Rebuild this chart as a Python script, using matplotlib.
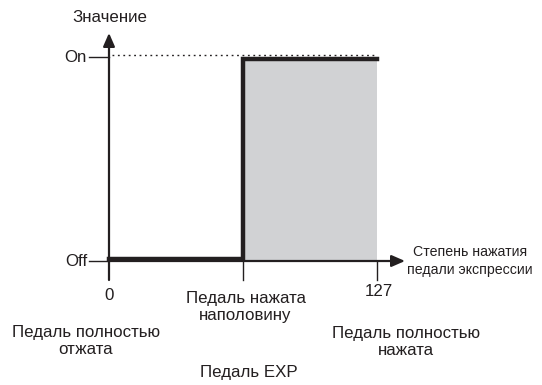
import matplotlib
matplotlib.use("Agg")
import matplotlib.pyplot as plt

plt.rcParams['font.family'] = ['Liberation Sans', 'DejaVu Sans']

# data
x_pos = [0, 63.5, 127]           # pedal positions
x_tick_labels = ['0', 'Педаль нажата\nнаполовину', '127']
step_x = [0, 63.5, 63.5, 127]
step_y = [0, 0, 1, 1]            # Off = 0, On = 1
y_levels = [0, 1]
y_labels = ['Off', 'On']
bottom_labels = ['Педаль полностью\nотжата', 'Педаль полностью\nнажата']
y_title = 'Значение'
x_title = 'Степень нажатия\nпедали экспрессии'
caption = 'Педаль EXP'

ink = '#231f20'
fill = '#d1d2d4'

W, H = 542, 385
fig = plt.figure(figsize=(W/100, H/100), dpi=100)
ax = fig.add_axes([0, 0, 1, 1])
ax.set_axis_off()
# pixel mapping: x 0 -> 109px, 127 -> 377px ; y 0 -> 261px, 1 -> 57px (from top)
sx = 268/127
sy = 204
ax.set_xlim(-109/sx, (W-109)/sx)
ax.set_ylim(-(H-261)/sy, 261/sy)

def px(dx):  # pixel to data x length
    return dx/sx
def py(dy):
    return dy/sy

# gray fill where pedal is on
ax.fill_between([x_pos[1], x_pos[2]], y_levels[0], y_levels[1], color=fill, lw=0, zorder=1)

# dotted On reference
ax.plot([x_pos[0]+px(3), x_pos[2]], [y_levels[1]+py(1.5)]*2, color=ink, lw=1.0,
        dashes=(1.3, 2.6), zorder=2)

# axes with arrows
ax.annotate('', xy=(x_pos[0], y_levels[1]+py(24)), xytext=(x_pos[0], y_levels[0]-py(19)),
            arrowprops=dict(arrowstyle='-|>,head_length=0.8,head_width=0.35', color=ink, lw=1.6,
                            shrinkA=0, shrinkB=0), zorder=3)
ax.annotate('', xy=(x_pos[2]+px(28), y_levels[0]), xytext=(x_pos[0]-px(1), y_levels[0]),
            arrowprops=dict(arrowstyle='-|>,head_length=0.8,head_width=0.35', color=ink, lw=1.6,
                            shrinkA=0, shrinkB=0), zorder=3)

# ticks
for xv in x_pos[1:]:
    ax.plot([xv, xv], [y_levels[0], y_levels[0]-py(19)], color=ink, lw=1.0, zorder=3)
for yv in y_levels:
    ax.plot([x_pos[0]-px(20), x_pos[0]], [yv, yv], color=ink, lw=1.0, zorder=3)

# thick step line
ax.plot(step_x, [v + (py(2) if v == 0 else -py(2)) for v in step_y], color=ink, lw=3.2,
        solid_joinstyle='miter', zorder=4)

fs = 12.2
ls = 1.12
for yv, lab in zip(y_levels, y_labels):
    ax.text(x_pos[0]-px(22), yv, lab, ha='right', va='center', fontsize=fs, color=ink)

ax.text(x_pos[0]+px(1), y_levels[1]+py(39), y_title, ha='center', va='center', fontsize=fs, color=ink)
ax.text(x_pos[2]+px(93), y_levels[0]+py(0), x_title, ha='center', va='center',
        fontsize=10.2, color=ink, linespacing=1.35)

ax.text(x_pos[0], y_levels[0]-py(35), x_tick_labels[0], ha='center', va='center', fontsize=fs, color=ink)
ax.text(x_pos[1]+px(2.5), y_levels[0]-py(46), x_tick_labels[1], ha='center', va='center',
        fontsize=fs, color=ink, linespacing=ls)
ax.text(x_pos[2]+px(2), y_levels[0]-py(30), x_tick_labels[2], ha='center', va='center', fontsize=fs, color=ink)

ax.text(x_pos[0]-px(23), y_levels[0]-py(80), bottom_labels[0], ha='center', va='center',
        fontsize=fs, color=ink, linespacing=ls)
ax.text(x_pos[2]+px(29), y_levels[0]-py(81), bottom_labels[1], ha='center', va='center',
        fontsize=fs, color=ink, linespacing=ls)
ax.text(x_pos[1]+px(6), y_levels[0]-py(111), caption, ha='center', va='center', fontsize=fs, color=ink)

fig.savefig('out.png', dpi=100)
